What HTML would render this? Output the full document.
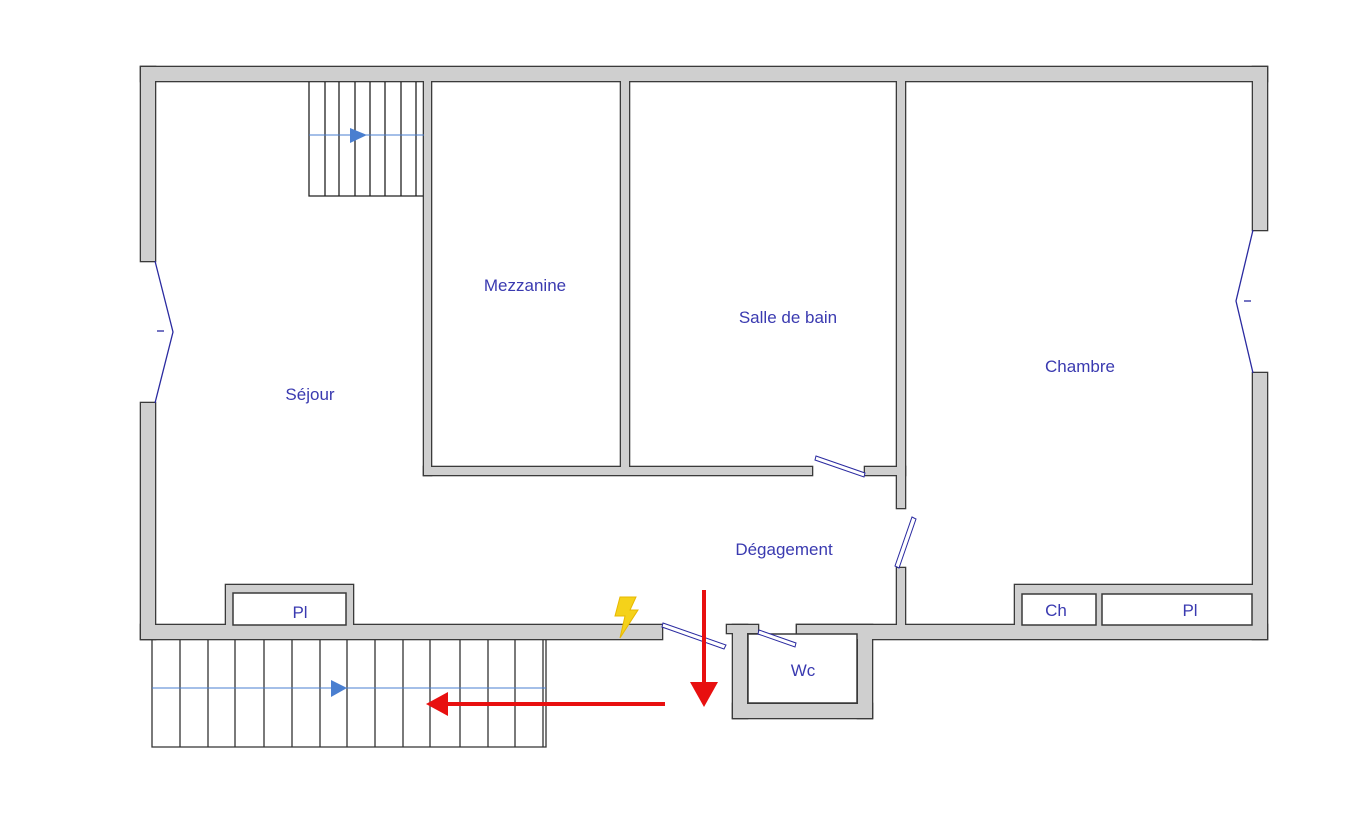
<!DOCTYPE html>
<html><head><meta charset="utf-8"><style>html,body{margin:0;padding:0;background:#fff}svg{display:block}text{font-family:"Liberation Sans",sans-serif;font-size:17px;fill:#3a3ab0}</style></head>
<body>
<svg width="1366" height="820" viewBox="0 0 1366 820" xmlns="http://www.w3.org/2000/svg">
<defs>
<g id="walls">
<rect x="141" y="67" width="1126" height="14"/>
<rect x="141" y="67" width="14" height="194"/>
<rect x="141" y="403" width="14" height="236"/>
<rect x="1253" y="67" width="14" height="163"/>
<rect x="1253" y="373" width="14" height="266"/>
<rect x="141" y="625" width="521" height="14"/>
<rect x="797" y="625" width="470" height="14"/>
<rect x="733" y="625" width="14" height="93"/>
<rect x="858" y="630" width="14" height="88"/>
<rect x="733" y="704" width="139" height="14"/>
<rect x="727" y="625" width="31" height="8"/>
<rect x="797" y="625" width="75" height="8"/>
<rect x="424" y="75" width="7" height="400"/>
<rect x="621" y="75" width="8" height="396"/>
<rect x="424" y="467" width="388" height="8"/>
<rect x="865" y="467" width="40" height="8"/>
<rect x="897" y="75" width="8" height="433"/>
<rect x="897" y="568" width="8" height="62"/>
<rect x="226" y="585" width="127" height="45"/>
<rect x="1015" y="585" width="245" height="45"/>
</g>
</defs>
<use href="#walls" fill="#cfcfcf" stroke="#3a3a3a" stroke-width="2.6"/>
<use href="#walls" fill="#cfcfcf" stroke="none"/>
<g fill="#fff" stroke="#3a3a3a" stroke-width="1.5">
<rect x="233" y="593" width="113" height="32"/>
<rect x="1022" y="594" width="74" height="31"/>
<rect x="1102" y="594" width="150" height="31"/>
</g>
<rect x="748" y="634" width="109" height="69" fill="#fff" stroke="#3a3a3a" stroke-width="1.5"/>
<!-- top stairs -->
<g stroke="#222" stroke-width="1.3" fill="none">
<path d="M309 82V196H423"/>
<path d="M325 82V196M339 82V196M355 82V196M370 82V196M385 82V196M401 82V196M416 82V196"/>
</g>
<line x1="309" y1="135" x2="424" y2="135" stroke="#4a7fd0" stroke-width="1"/>
<polygon points="350,128 367,135 350,143" fill="#4a7fd0"/>
<!-- bottom stairs -->
<g stroke="#333" stroke-width="1.3" fill="none">
<path d="M152 640V747H546V640"/>
<path d="M180 640V747M208 640V747M235 640V747M264 640V747M292 640V747M320 640V747M347 640V747M375 640V747M403 640V747M430 640V747M460 640V747M488 640V747M515 640V747M543 640V747"/>
</g>
<line x1="152" y1="688" x2="546" y2="688" stroke="#4a7fd0" stroke-width="1"/>
<polygon points="331,680 347,688 331,697" fill="#4a7fd0"/>
<!-- windows -->
<g stroke="#2a2aa0" stroke-width="1.3" fill="none">
<polyline points="155,261 173,332 155,403"/>
<polyline points="1253,230 1236,301 1253,373"/>
<line x1="157" y1="331" x2="164" y2="331"/>
<line x1="1244" y1="301" x2="1251" y2="301"/>
</g>
<!-- doors -->
<g stroke="#2a2aa0" stroke-width="1" fill="#fff">
<polygon points="816,456 865,473 864,477 815,460"/>
<polygon points="912,517 916,519 899,568 895,566"/>
<polygon points="663,623 726,645 724,649 662,627"/>
<polygon points="759,630 796,643 795,647 758,634"/>
</g>
<!-- lightning -->
<polygon points="620,597 636,597 630,610 638,610 620,638 625,616 615,616" fill="#f5d21a" stroke="#e8b800" stroke-width="1"/>
<!-- red arrows -->
<line x1="704" y1="590" x2="704" y2="685" stroke="#e81010" stroke-width="4"/>
<polygon points="690,682 718,682 704,707" fill="#e81010"/>
<line x1="665" y1="704" x2="445" y2="704" stroke="#e81010" stroke-width="4"/>
<polygon points="448,692 448,716 426,704" fill="#e81010"/>
<!-- labels -->
<text x="525" y="291" text-anchor="middle">Mezzanine</text>
<text x="788" y="323" text-anchor="middle">Salle de bain</text>
<text x="310" y="400" text-anchor="middle">Séjour</text>
<text x="1080" y="372" text-anchor="middle">Chambre</text>
<text x="784" y="555" text-anchor="middle">Dégagement</text>
<text x="300" y="618" text-anchor="middle">Pl</text>
<text x="803" y="676" text-anchor="middle">Wc</text>
<text x="1056" y="616" text-anchor="middle">Ch</text>
<text x="1190" y="616" text-anchor="middle">Pl</text>
</svg>
</body></html>
